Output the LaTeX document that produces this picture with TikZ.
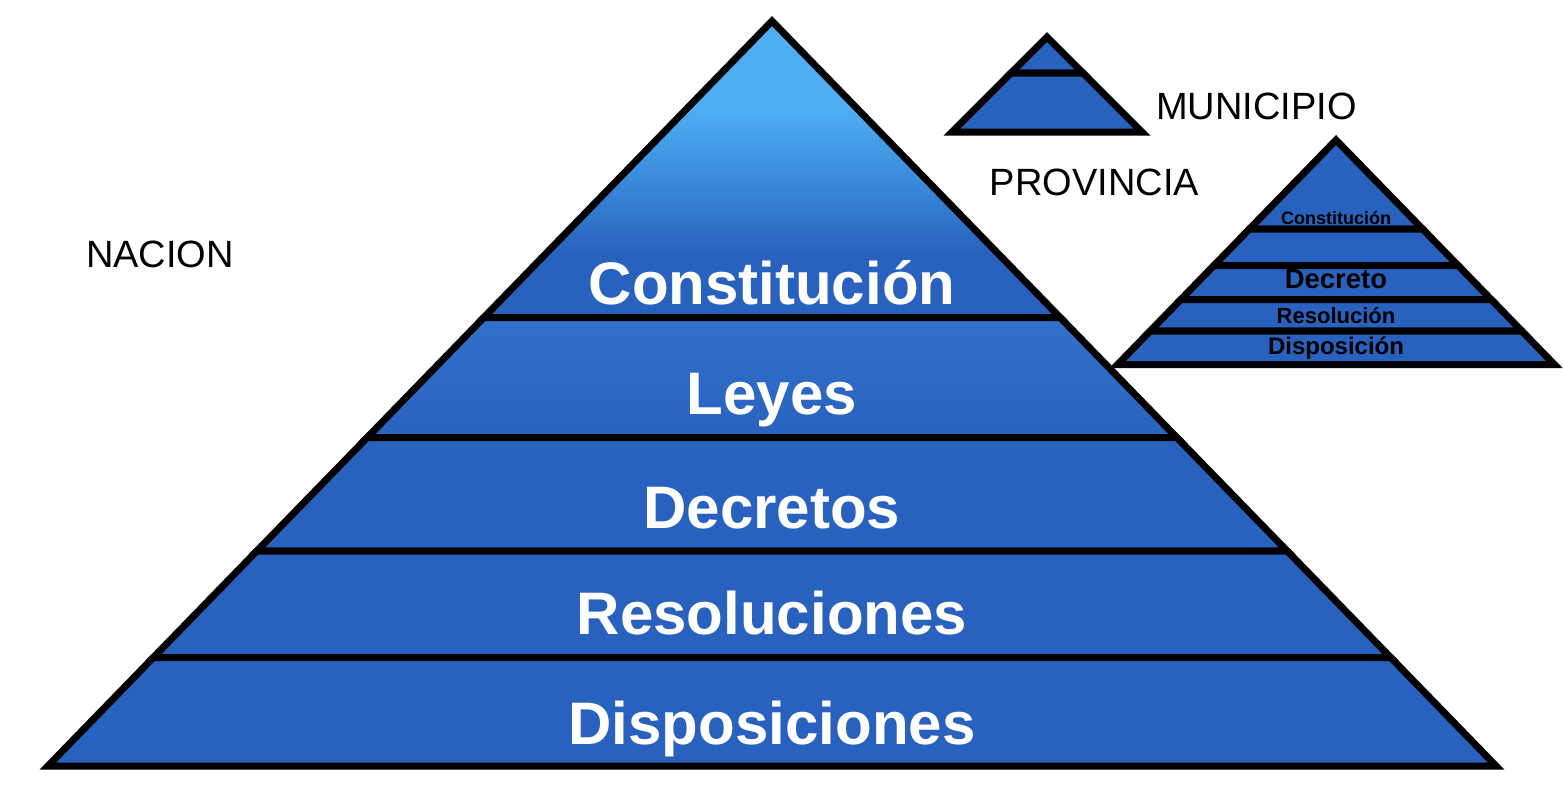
\documentclass[tikz,border=0pt]{standalone}
\usepackage{fontspec}
\setmainfont{Liberation Sans}
\definecolor{dblue}{RGB}{41,98,190}
\definecolor{mblue}{RGB}{58,138,220}
\definecolor{lblue}{RGB}{77,174,242}
\definecolor{leytop}{RGB}{48,112,204}
\pgfdeclareverticalshading{topgrad}{100bp}{color(0bp)=(dblue); color(36bp)=(dblue); color(48bp)=(mblue); color(60bp)=(lblue); color(100bp)=(lblue)}
\tikzset{
  band/.style={draw=black, line width=3.5pt, fill=dblue, line join=miter},
  biglabel/.style={inner sep=0pt, anchor=base, text=white, font=\bfseries\fontsize{30}{36}\selectfont},
  lvl/.style={inner sep=0pt, anchor=base, text=black, font=\fontsize{19}{23}\selectfont},
  smalllabel/.style={inner sep=0pt, anchor=base, text=black},
}
\begin{document}
\begin{tikzpicture}[x=0.5pt,y=-0.5pt]
\useasboundingbox (0,0) rectangle (1564,784);
% ---- big pyramid (NACION)
\coordinate (apex) at (772,21);
\shade[shading=topgrad] (apex) -- (1060.2,317.5) -- (483.8,317.5) -- cycle;
\draw[band, fill=none] (apex) -- (1060.2,317.5) -- (483.8,317.5) -- cycle;
\shade[top color=leytop, bottom color=dblue] (483.8,317.5) -- (1060.2,317.5) -- (1176.8,437.5) -- (367.2,437.5) -- cycle;
\draw[band, fill=none] (483.8,317.5) -- (1060.2,317.5) -- (1176.8,437.5) -- (367.2,437.5) -- cycle;
\draw[band] (367.2,437.5) -- (1176.8,437.5) -- (1287.2,551) -- (256.8,551) -- cycle;
\draw[band] (256.8,551) -- (1287.2,551) -- (1390.7,657.5) -- (153.3,657.5) -- cycle;
\draw[band] (153.3,657.5) -- (1390.7,657.5) -- (1496.1,766) -- (47.9,766) -- cycle;
\node[biglabel] (constitucion) at (772,304) {Constitución};
\node[biglabel] (leyes) at (772,414) {Leyes};
\node[biglabel] (decretos) at (772,528) {Decretos};
\node[biglabel] (resoluciones) at (772,634) {Resoluciones};
\node[biglabel] (disposiciones) at (772,744) {Disposiciones};
% ---- municipio pyramid
\draw[band] (1047,37) -- (1083,73) -- (1011,73) -- cycle;
\draw[band] (1011,73) -- (1083,73) -- (1142,132) -- (952,132) -- cycle;
% ---- provincia pyramid
\draw[band] (1336,140) -- (1422.6,229) -- (1249.4,229) -- cycle;
\draw[band] (1249.4,229) -- (1422.6,229) -- (1458.1,265.5) -- (1213.9,265.5) -- cycle;
\draw[band] (1213.9,265.5) -- (1458.1,265.5) -- (1491.2,299.5) -- (1180.8,299.5) -- cycle;
\draw[band] (1180.8,299.5) -- (1491.2,299.5) -- (1521.8,331) -- (1150.2,331) -- cycle;
\draw[band] (1150.2,331) -- (1521.8,331) -- (1554.4,364.5) -- (1117.6,364.5) -- cycle;
\node[smalllabel, font=\bfseries\fontsize{9}{11}\selectfont] (pconst) at (1336,224) {Constitución};
\node[smalllabel, font=\bfseries\fontsize{13.75}{16}\selectfont] (pdecreto) at (1336,288) {Decreto};
\node[smalllabel, font=\bfseries\fontsize{11}{13}\selectfont] (presol) at (1336,323) {Resolución};
\node[smalllabel, font=\bfseries\fontsize{12}{14}\selectfont] (pdisp) at (1336,354) {Disposición};
% ---- level labels
\node[lvl] (nacion) at (160,267) {NACION};
\node[lvl] (municipio) at (1256.5,119) {MUNICIPIO};
\node[lvl] (provincia) at (1094.5,195) {PROVINCIA};
\end{tikzpicture}
\end{document}
